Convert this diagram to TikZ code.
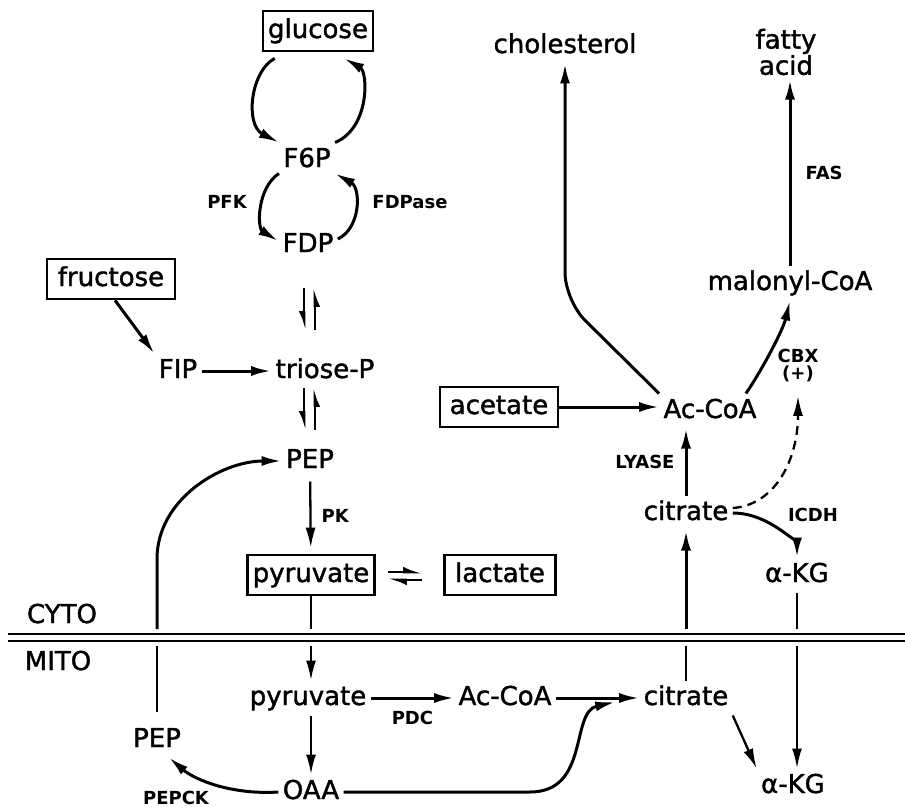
\documentclass[tikz,border=0pt]{standalone}
\usepackage{fontspec}
\setmainfont{DejaVu Sans}
\newfontfamily\lettering{DejaVu Sans}[FakeBold=1.5]
\usetikzlibrary{arrows.meta}

\begin{document}
\begin{tikzpicture}[x=1pt,y=-1pt,>={Latex[length=20pt,width=10pt]},line width=3pt]
\tikzset{
  met/.style={font=\lettering\fontsize{26}{22}\selectfont,text height=20pt,text depth=6pt,inner sep=3pt},
  pool/.style={met,draw,line width=2.6pt,inner xsep=5pt,inner ysep=7pt},
  enz/.style={font=\fontsize{18}{17}\selectfont\bfseries,inner sep=2pt},
  slim/.style={line width=2.3pt},
  eqv/.style={-{Latex[harpoon,swap,length=14pt,width=11pt]},line width=2.6pt},
  eqh/.style={-{Latex[harpoon,length=14pt,width=11pt]},line width=2.6pt}
}
\useasboundingbox (0,0) rectangle (905,808);
% cytosol
\node[pool] (glucose) at (318,31) {glucose};
\node[met] (f6p) at (307,160) {F6P};
\node[met] (fdp) at (308,245) {FDP};
\node[pool,minimum width=128pt] (fructose) at (111,279) {fructose};
\node[met] (fip) at (178,371) {FIP};
\node[met] (triose) at (325,371) {triose-P};
\node[met] (pep) at (310,461) {PEP};
\node[pool] (pyr) at (311,575) {pyruvate};
\node[pool,minimum width=111pt] (lac) at (500,575) {lactate};
\node[pool,minimum width=118pt] (acetate) at (499,407) {acetate};
\node[met] (accoa) at (710,411) {Ac-CoA};
\node[met] (cit) at (686,513) {citrate};
\node[met] (akg) at (797,575) {α-KG};
\node[met] (malcoa) at (790,283) {malonyl-CoA};
\node[met] (chol) at (565,46) {cholesterol};
\node[font=\lettering\fontsize{26}{22}\selectfont,align=center,inner sep=3pt] (fa) at (786,52) {fatty\\acid};
\node[met] (cyto) at (62,616) {CYTO};
% mitochondrion
\node[met] (mito) at (58,663) {MITO};
\node[met] (mpyr) at (308,698) {pyruvate};
\node[met] (maccoa) at (505,698) {Ac-CoA};
\node[met] (mcit) at (686,698) {citrate};
\node[met] (makg) at (793,786) {α-KG};
\node[met] (oaa) at (311,792) {OAA};
\node[met] (mpep) at (157,740) {PEP};
% enzymes
\node[enz] (pfk) at (227,202) {PFK};
\node[enz] (fdpase) at (410,202) {FDPase};
\node[enz] (pepck) at (176,798) {PEPCK};
\node[enz] (icdh) at (813,515) {ICDH};
\node[enz,align=center] (cbx) at (798,366) {CBX\\(+)};
% membrane
\draw[line width=2pt,double distance=4.5pt] (8,637.5) -- (905,637.5);
\coordinate (cyt) at (0,629);
\coordinate (mit) at (0,646);
\coordinate (eqa) at (309.5,309);
\coordinate (eqb) at (309.5,409);
\coordinate (eqc) at (405,576);

\draw[->] ([xshift=13pt,yshift=-6pt]glucose.south west) .. controls (250,72) and (245,125) .. (f6p.north west);
\draw[->] (f6p.north east) .. controls (370,128) and (368,72) .. ([xshift=-30pt,yshift=-6pt]glucose.south east);
\draw[->] ([yshift=4pt]f6p.south west) .. controls (257,188) and (257,228) .. ([yshift=4pt]fdp.west);
\draw[->] ([yshift=6pt]fdp.east) .. controls (361,228) and (361,188) .. ([yshift=4pt]f6p.south east);
\foreach \e in {eqa,eqb} {
  \draw[eqv] ([xshift=-5.5pt,yshift=21pt]\e) -- ([xshift=-5.5pt,yshift=-21pt]\e);
  \draw[eqv] ([xshift=5.5pt,yshift=-21pt]\e) -- ([xshift=5.5pt,yshift=21pt]\e);
}
\draw[eqh] ([xshift=-17pt,yshift=4pt]eqc) -- ([xshift=17pt,yshift=4pt]eqc);
\draw[eqh] ([xshift=17pt,yshift=-4pt]eqc) -- ([xshift=-17pt,yshift=-4pt]eqc);
\draw[->] ([xshift=4pt]fructose.south) -- (fip.north west);
\draw[->] (fip) -- (triose);
\draw[->,slim,shorten <=3pt,shorten >=6pt] (pep) -- node[enz,right=8pt]{PK} (pyr);
\draw[slim] (pyr) -- (pyr |- cyt);
\draw[->,slim] (pyr |- mit) -- (pyr |- mpyr.north);
\draw[->] (mpyr) -- node[enz,below=10pt] (pdc) {PDC} (maccoa);
\draw[->] (maccoa) -- (mcit);
\draw[->,slim] (pyr |- mpyr.south) -- (pyr |- oaa.north);
\draw[->] (oaa.east) -- (530,792) .. controls (590,792) and (570,712) .. ([xshift=-24pt,yshift=-4pt]mcit.west);
\draw[->] (oaa.west) .. controls (232,795) and (195,780) .. ([xshift=12pt]mpep.south);
\draw[slim,shorten <=11pt] (mpep) -- (mpep |- mit);
\draw[->] (mpep |- cyt) -- ++(0,-70) .. controls +(0,-60) and +(-60,0) .. (pep.west);
\draw[slim] (mcit) -- (mcit |- mit);
\draw[->] (mcit |- cyt) -- (mcit |- cit.south);
\draw[->,slim] (mcit.south east) -- (makg.north west);
\draw[slim] (akg) -- (akg |- cyt);
\draw[->,slim] (akg |- mit) -- (akg |- makg.north);
\draw[->] (cit) -- node[enz,left=8pt] (lyase) {LYASE} (cit |- accoa.south);
\draw[->] (cit.east) .. controls +(38,0) and +(0,-28) .. (akg);
\draw[->,slim,dash pattern=on 9pt off 6pt] ([yshift=5pt]cit.east) .. controls (775,505) and (798,460) .. ([yshift=-10pt]cbx.south);
\draw[->] (acetate) -- (acetate -| accoa.west);
\draw[->] ([xshift=-15pt]accoa.north east) .. controls (762,370) and (783,330) .. (malcoa.south);
\draw[->,rounded corners=28pt] (accoa.north west) -- (chol |- malcoa.south) -- (chol);
\draw[->] (malcoa) -- node[enz,right=12pt] (fas) {FAS} (malcoa |- fa.south);
\end{tikzpicture}
\end{document}
